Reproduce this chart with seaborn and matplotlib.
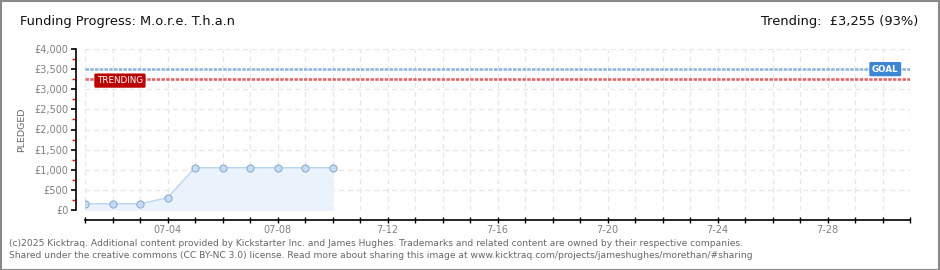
import matplotlib
matplotlib.use("Agg")
import matplotlib.pyplot as plt
import seaborn as sns
import pandas as pd
from matplotlib.ticker import MultipleLocator, FuncFormatter
from matplotlib.patches import Rectangle

# ---- data ----
days = [1, 2, 3, 4, 5, 6, 7, 8, 9, 10]          # July day of month
pledged = [155, 155, 155, 305, 1050, 1050, 1050, 1050, 1050, 1050]
goal = 3500
trending = 3255
tick_days = [4, 8, 12, 16, 20, 24, 28]
tick_labels = ["07-04", "07-08", "7-12", "7-16", "7-20", "7-24", "7-28"]
title = "Funding Progress: M.o.r.e. T.h.a.n"
trend_text = "Trending:  £3,255 (93%)"
footer = ("(c)2025 Kicktraq. Additional content provided by Kickstarter Inc. and James Hughes. "
          "Trademarks and related content are owned by their respective companies.\n"
          "Shared under the creative commons (CC BY-NC 3.0) license. Read more about sharing this "
          "image at www.kicktraq.com/projects/jameshughes/morethan/#sharing")

df = pd.DataFrame({"day": days, "pledged": pledged})

sns.set_theme(style="white")
plt.rcParams["font.family"] = ["DejaVu Sans"]

W, H = 940, 270
PX = 72 / 100  # points per pixel
fig = plt.figure(figsize=(W / 100, H / 100), dpi=100)
fig.patch.set_facecolor("white")
fig.add_artist(Rectangle((0.5 / W, 0.5 / H), 1 - 1.5 / W, 1 - 1.5 / H, transform=fig.transFigure,
                         fill=False, edgecolor="#8a8a8a", linewidth=1.5))

ax = fig.add_axes([85 / W, (H - 210) / H, (910 - 85) / W, (210 - 49) / H])
ax.set_xlim(1, 31)
ax.set_ylim(0, 4000)

# grid
for d in range(1, 32):
    ax.axvline(d, color="#e6e6e6", lw=0.9, ls=(0, (4, 3)), zorder=0)
for v in range(0, 4001, 500):
    ax.axhline(v, color="#e6e6e6", lw=0.9, ls=(0, (4, 3)), zorder=0)

# fill + line + points
ax.fill_between(df["day"], df["pledged"], 0, color="#eaf3fc", zorder=1)
sns.lineplot(data=df, x="day", y="pledged", ax=ax, color="#b8d6f2", lw=1.0, zorder=2,
             marker="o", markersize=5.2, markerfacecolor="#c4dcf5",
             markeredgecolor="#8aa8c8", markeredgewidth=0.7)

# goal & trending lines
ax.axhline(goal, color="#8fb6e0", lw=1.9, ls=(0, (1.3, 0.5)), zorder=3)
ax.axhline(trending, color="#e06666", lw=1.9, ls=(0, (1.3, 0.5)), zorder=3)
ax.text(30.1, goal, "GOAL", color="white", fontsize=6.3, fontweight="bold", ha="center", va="center",
        zorder=5, bbox=dict(boxstyle="round,pad=0.3,rounding_size=0.15", fc="#3b87d6", ec="none"))
ax.text(2.27, trending - 40, "TRENDING", color="white", fontsize=6.3, ha="center", va="center",
        zorder=5, bbox=dict(boxstyle="round,pad=0.3,rounding_size=0.15", fc="#bb0000", ec="none"))

# axes styling
for s in ["top", "right"]:
    ax.spines[s].set_visible(False)
ax.spines["left"].set_position(("outward", 9 * PX))
ax.spines["bottom"].set_position(("outward", 10 * PX))
for s in ["left", "bottom"]:
    ax.spines[s].set_color("black")
    ax.spines[s].set_linewidth(1.2)

ax.yaxis.set_major_locator(MultipleLocator(500))
ax.yaxis.set_minor_locator(MultipleLocator(250))
ax.yaxis.set_major_formatter(FuncFormatter(lambda v, p: "£{:,.0f}".format(v)))
ax.tick_params(axis="y", which="major", direction="out", length=3.5, width=1.2, color="black",
               labelsize=7, labelcolor="#808080", pad=2, left=True)
ax.tick_params(axis="y", which="minor", direction="out", length=3, width=1.0, color="#ee0000", left=True)

ax.set_xticks(range(1, 32), minor=True)
ax.set_xticks(tick_days)
ax.set_xticklabels(tick_labels)
ax.tick_params(axis="x", which="both", direction="inout", length=5, width=1.0, color="black",
               labelsize=7, labelcolor="#808080", pad=1, bottom=True)
ax.set_xlabel("")
ax.set_ylabel("PLEDGED", fontsize=6.8, color="#666666")
ax.yaxis.set_label_coords((26 - 85) / 825, 0.5)

# texts
fig.text(20 / W, 1 - 22 / H, title, fontsize=9.4, color="#111111", va="center", ha="left")
fig.text(918 / W, 1 - 22 / H, trend_text, fontsize=9.4, color="#111111", va="center", ha="right")
fig.text(9 / W, 1 - 249.5 / H, footer, fontsize=6.6, color="#666666", va="center", ha="left",
         linespacing=1.45)

fig.savefig("out.png", dpi=100, facecolor="white")
